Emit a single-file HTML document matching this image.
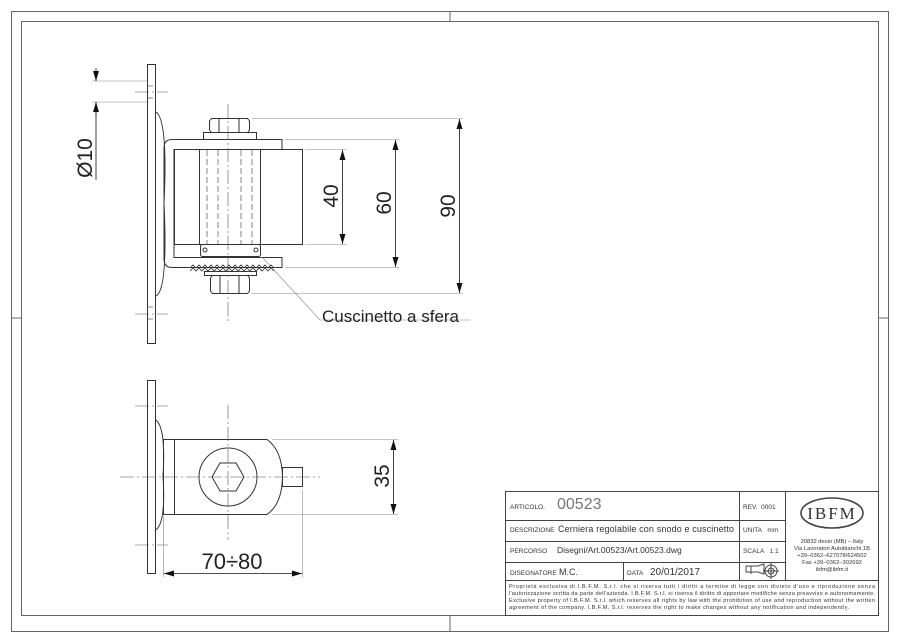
<!DOCTYPE html>
<html><head><meta charset="utf-8"><style>
html,body{margin:0;padding:0;background:#fff}
svg{display:block}
text{font-family:"Liberation Sans",sans-serif;fill:#222}
.t text{font-family:"Liberation Sans",sans-serif;fill:#333}
</style></head><body>
<svg width="900" height="636" viewBox="0 0 900 636" xmlns="http://www.w3.org/2000/svg">
<defs>
<marker id="a" viewBox="0 0 10 6" refX="10" refY="3" markerWidth="10" markerHeight="6" orient="auto-start-reverse" markerUnits="userSpaceOnUse"><path d="M0,0 L10,3 L0,6z" fill="#111"/></marker>
</defs>
<g fill="none" stroke="#666" stroke-width="1">
<rect x="11.5" y="11.5" width="877" height="620"/>
<rect x="21.5" y="21.5" width="857" height="594"/>
<line x1="450" y1="11" x2="450" y2="21"/><line x1="450" y1="616" x2="450" y2="632"/>
<line x1="11" y1="318" x2="21" y2="318"/><line x1="879" y1="318" x2="889" y2="318"/>
</g>
<g fill="none" stroke="#444" stroke-width="1">
<rect x="505.5" y="491.5" width="373" height="124"/>
<line x1="505" y1="520.5" x2="785" y2="520.5"/>
<line x1="505" y1="541.5" x2="785" y2="541.5"/>
<line x1="505" y1="562.5" x2="785" y2="562.5"/>
<line x1="505" y1="580.5" x2="879" y2="580.5"/>
<line x1="739.5" y1="491" x2="739.5" y2="580"/>
<line x1="785.5" y1="491" x2="785.5" y2="580"/>
<line x1="623.5" y1="562" x2="623.5" y2="580"/>
<ellipse cx="832" cy="513" rx="31" ry="15" stroke-width="1.6"/>
<path d="M746,566 h12 l6,-2 v10 l-6,-2 h-12z M751,566 v8"/>
<circle cx="771" cy="571" r="6"/><circle cx="771" cy="571" r="3"/><path d="M763,571h16M771,563v16"/>
</g>
<g class="t">
<text x="510" y="509" font-size="6.5">ARTICOLO.</text>
<text x="557" y="509" font-size="16" style="fill:#777">00523</text>
<text x="743" y="509" font-size="6.5">REV.&#160;&#160;0001</text>
<text x="510" y="532" font-size="6.5">DESCRIZIONE</text>
<text x="558" y="532" font-size="9" textLength="176">Cerniera regolabile con snodo e cuscinetto</text>
<text x="743" y="532" font-size="6.5">UNITA&#160;&#160;&#160;mm</text>
<text x="510" y="553" font-size="6.5">PERCORSO</text>
<text x="557" y="553" font-size="8.5">Disegni/Art.00523/Art.00523.dwg</text>
<text x="743" y="553" font-size="6.5">SCALA&#160;&#160;&#160;1:1</text>
<text x="510" y="575" font-size="6.5">DISEGNATORE</text>
<text x="559" y="575" font-size="9">M.C.</text>
<text x="627" y="575" font-size="6.5">DATA</text>
<text x="650" y="575" font-size="10">20/01/2017</text>
<text x="832" y="519" font-size="17" text-anchor="middle" style="font-family:'Liberation Serif',serif;letter-spacing:2px">IBFM</text>
<g font-size="5.8" text-anchor="middle">
<text x="832" y="543">20832 desio (MB) – Italy</text>
<text x="832" y="550">Via Lavoratori Autobianchi,1B</text>
<text x="832" y="557">+39–0362–627078/624502</text>
<text x="832" y="564">Fax +39–0362–302692</text>
<text x="832" y="571">ibfm@ibfm.it</text>
</g>
<g font-size="5.6">
<text x="509" y="588" textLength="366">Proprietà esclusiva di I.B.F.M. S.r.l. che si riserva tutti i diritti a termine di legge con divieto d'uso e riproduzione senza</text>
<text x="509" y="595" textLength="366">l'autorizzazione scritta da parte dell'azienda. I.B.F.M. S.r.l. si riserva il diritto di apportare modifiche senza preavviso e autonomamente.</text>
<text x="509" y="602" textLength="366">Exclusive property of I.B.F.M. S.r.l. which reserves all rights by law with the prohibition of use and reproduction without the written</text>
<text x="509" y="609" textLength="340">agreement of the company. I.B.F.M. S.r.l. reserves the right to make changes without any notification and independently.</text>
</g>
</g>
<!-- top view -->
<g fill="none" stroke="#333" stroke-width="1">
<rect x="147.5" y="64.5" width="8" height="279"/>
<path d="M156,112 Q168,120 164,203 Q168,290 156,296"/>
<path d="M282,139.5 H172 Q164,139.5 164,148 V259 Q164,267.5 172,267.5 H282 V257.5 H174 V149.5 H282z"/>
<rect x="174.5" y="149.5" width="128" height="95"/>
<rect x="199.5" y="149.5" width="61" height="95"/>
<path d="M211.5,118.5 H247.5 L249.5,121 V130 L247.5,132.5 H211.5 L209.5,130 V121z"/>
<line x1="219" y1="118" x2="219" y2="132"/><line x1="239" y1="118" x2="239" y2="132"/>
<rect x="203.5" y="132.5" width="53" height="7"/>
<rect x="200.5" y="244.5" width="60" height="12" rx="2"/>
<circle cx="205" cy="250" r="2"/><circle cx="256" cy="250" r="2"/>
<path d="M190,268 l3,-3 l3,3 l3,-3 l3,3 l3,-3 l3,3 l3,-3 l3,3 l3,-3 l3,3 l3,-3 l3,3 l3,-3 l3,3 l3,-3 l3,3 l3,-3 l3,3 l3,-3 l3,3 l3,-3 l3,3 l3,-3 l3,3 l3,-3 l3,3 l3,-3 l3,3 M190,271 l3,-3 l3,3 l3,-3 l3,3 l3,-3 l3,3 l3,-3 l3,3 l3,-3 l3,3 l3,-3 l3,3 l3,-3 l3,3 l3,-3 l3,3 l3,-3 l3,3 l3,-3 l3,3 l3,-3 l3,3 l3,-3 l3,3 l3,-3 l3,3 l3,-3 l3,3" stroke-width="0.8"/>
<rect x="204.5" y="271.5" width="52" height="4"/>
<path d="M212.5,275.5 H247.5 L249.5,278 V291 L247.5,293.5 H212.5 L210.5,291 V278z"/>
<line x1="220" y1="275" x2="220" y2="293"/><line x1="239" y1="275" x2="239" y2="293"/>
<g stroke-dasharray="6,3" stroke-width="0.7" stroke="#555">
<line x1="207" y1="150" x2="207" y2="244"/><line x1="218" y1="150" x2="218" y2="244"/>
<line x1="241" y1="150" x2="241" y2="244"/><line x1="252" y1="150" x2="252" y2="244"/>
<line x1="147" y1="86" x2="156" y2="86"/><line x1="147" y1="98" x2="156" y2="98"/>
<line x1="147" y1="307" x2="156" y2="307"/><line x1="147" y1="319" x2="156" y2="319"/>
</g>
<g stroke-dasharray="14,3,2,3" stroke-width="0.6" stroke="#555">
<line x1="228" y1="104" x2="228" y2="322"/>
<line x1="135" y1="92" x2="168" y2="92"/><line x1="135" y1="314" x2="168" y2="314"/>
</g>
<g stroke="#888" stroke-width="0.6">
<line x1="92" y1="81" x2="147" y2="81"/><line x1="92" y1="102" x2="147" y2="102"/>
<line x1="305" y1="149.5" x2="347" y2="149.5"/><line x1="305" y1="244.5" x2="347" y2="244.5"/>
<line x1="285" y1="139.5" x2="399" y2="139.5"/><line x1="285" y1="267.5" x2="399" y2="267.5"/>
<line x1="252" y1="118.5" x2="463" y2="118.5"/><line x1="252" y1="293.5" x2="463" y2="293.5"/>
<polyline points="262,257 320,320 470,320"/>
</g>
<g stroke="#111" stroke-width="0.8">
<line x1="96" y1="68" x2="96" y2="81" marker-end="url(#a)"/>
<line x1="96" y1="115" x2="96" y2="102" marker-end="url(#a)"/>
<line x1="96" y1="102" x2="96" y2="180"/>
<line x1="342.5" y1="150" x2="342.5" y2="244" marker-start="url(#a)" marker-end="url(#a)"/>
<line x1="395.5" y1="140" x2="395.5" y2="267" marker-start="url(#a)" marker-end="url(#a)"/>
<line x1="459.5" y1="119" x2="459.5" y2="293" marker-start="url(#a)" marker-end="url(#a)"/>
</g>
</g>
<g font-size="21">
<text transform="translate(92,158) rotate(-90)" text-anchor="middle">Ø10</text>
<text transform="translate(338,196) rotate(-90)" text-anchor="middle">40</text>
<text transform="translate(391,203) rotate(-90)" text-anchor="middle">60</text>
<text transform="translate(455,206) rotate(-90)" text-anchor="middle">90</text>
<text transform="translate(389,476) rotate(-90)" text-anchor="middle">35</text>
<text x="232" y="569" text-anchor="middle" font-size="22">70÷80</text>
</g>
<text x="322" y="322" font-size="17">Cuscinetto a sfera</text>
<!-- bottom view -->
<g fill="none" stroke="#333" stroke-width="1">
<rect x="147.5" y="380.5" width="8" height="193"/>
<path d="M156,420 Q166,428 163,476 Q166,522 156,530"/>
<path d="M163.5,439.5 H267 Q282,450 282.5,477 Q282,504 267,514.5 H163.5z"/>
<line x1="174.5" y1="440" x2="174.5" y2="514"/>
<circle cx="228" cy="477" r="29"/>
<polygon points="220,463 236,463 244,477 236,491 220,491 212,477"/>
<rect x="282.5" y="467.5" width="20" height="19"/>
<g stroke-dasharray="14,3,2,3" stroke-width="0.6" stroke="#555">
<line x1="120" y1="477" x2="320" y2="477"/><line x1="228" y1="405" x2="228" y2="540"/>
<line x1="135" y1="406" x2="168" y2="406"/><line x1="135" y1="545" x2="168" y2="545"/>
</g>
<g stroke="#888" stroke-width="0.6">
<line x1="272" y1="439.5" x2="398" y2="439.5"/><line x1="272" y1="514.5" x2="398" y2="514.5"/>
<line x1="163.5" y1="516" x2="163.5" y2="577"/><line x1="302.5" y1="490" x2="302.5" y2="577"/>
</g>
<g stroke="#111" stroke-width="0.8">
<line x1="393.5" y1="440" x2="393.5" y2="514" marker-start="url(#a)" marker-end="url(#a)"/>
<line x1="164" y1="573.5" x2="302" y2="573.5" marker-start="url(#a)" marker-end="url(#a)"/>
</g>
</g>
</svg>
</body></html>
